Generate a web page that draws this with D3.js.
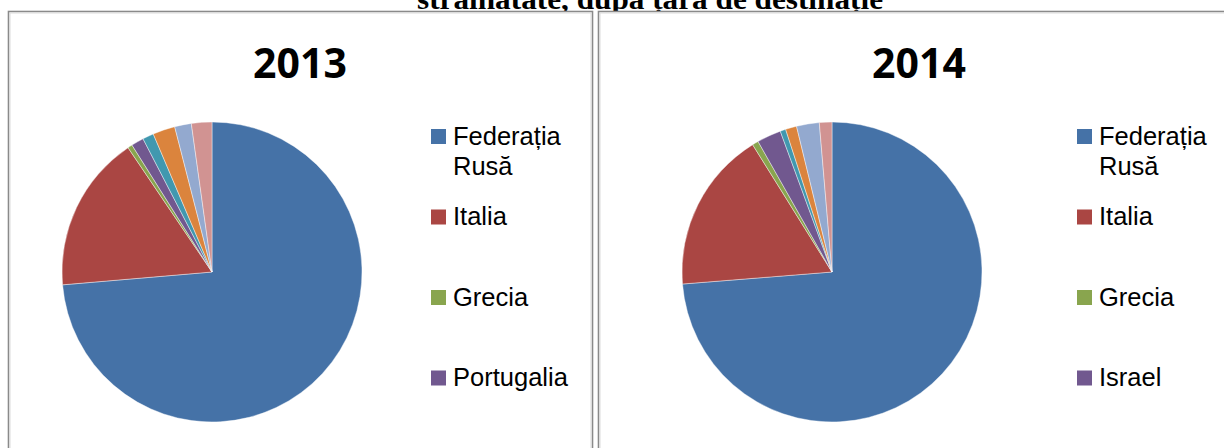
<!DOCTYPE html>
<html>
<head>
<meta charset="utf-8">
<script src="https://cdn.jsdelivr.net/npm/d3@7/dist/d3.min.js"></script>
<style>
  html, body { margin: 0; padding: 0; background: #ffffff; }
  svg { display: block; }
</style>
</head>
<body>
<svg id="chart" width="1224" height="448"></svg>
<script>
// ---- data ----
const headerText = "străinătate, după țara de destinație";
const years = ["2013", "2014"];
const categories2013 = ["Federația Rusă", "Italia", "Grecia", "Portugalia", "Turcia", "Ucraina", "Israel", "Alte țări"];
const values2013 = [73.6, 16.9, 0.5, 1.35, 1.2, 2.4, 1.8, 2.2];
const categories2014 = ["Federația Rusă", "Italia", "Grecia", "Israel", "Portugalia", "Turcia", "Ucraina", "Alte țări"];
const values2014 = [73.7, 17.4, 0.67, 2.6, 0.6, 1.2, 2.45, 1.35];
const sliceColors = ["#4572A7", "#AA4643", "#89A54E", "#71588F", "#4198AF", "#DB843D", "#93A9CF", "#D19392"];
const legendVisibleCount = 4; // the reference legend is cut after 4 entries

const panels = [
  { year: years[0], cats: categories2013, vals: values2013, box: { x: 8, w: 584 }, cx: 212, titleX: 300, legendX: 431 },
  { year: years[1], cats: categories2014, vals: values2014, box: { x: 598, w: 650 }, cx: 832, titleX: 919, legendX: 1077 }
];

const svg = d3.select("#chart");

// header line (cut off at top in the reference)
svg.append("text")
  .attr("x", 650).attr("y", 9)
  .attr("text-anchor", "middle")
  .attr("font-family", "'Liberation Serif', 'Times New Roman', serif")
  .attr("font-weight", "bold")
  .attr("font-size", 30)
  .attr("textLength", 466)
  .attr("lengthAdjust", "spacingAndGlyphs")
  .attr("fill", "#000")
  .text(headerText);

const radius = 150;
const cy = 272;
const pie = d3.pie().sort(null).value(d => d);
const arc = d3.arc().innerRadius(0).outerRadius(radius);

panels.forEach(p => {
  const g = svg.append("g");
  // frame
  g.append("rect")
    .attr("x", p.box.x + 0.5).attr("y", 11.5)
    .attr("width", p.box.w).attr("height", 460)
    .attr("fill", "#fff").attr("stroke", "#8a8a8a").attr("stroke-width", 1.6);
  g.append("rect")
    .attr("x", p.box.x + 2).attr("y", 13)
    .attr("width", p.box.w - 3).attr("height", 460)
    .attr("fill", "none").attr("stroke", "#dcdcdc").attr("stroke-width", 1);

  // title
  g.append("text")
    .attr("x", p.titleX).attr("y", 78)
    .attr("text-anchor", "middle")
    .attr("font-family", "'Open Sans', 'Liberation Sans', sans-serif")
    .attr("font-weight", "bold")
    .attr("font-size", 41)
    .attr("fill", "#000")
    .text(p.year);

  // pie
  const color = d3.scaleOrdinal().domain(p.cats).range(sliceColors);
  const arcs = pie(p.vals);
  g.append("g")
    .attr("transform", `translate(${p.cx},${cy})`)
    .selectAll("path")
    .data(arcs)
    .join("path")
    .attr("d", arc)
    .attr("fill", (d, i) => color(p.cats[i]))
    .attr("stroke", "#ffffff")
    .attr("stroke-width", 0.6)
    .attr("stroke-opacity", 0.7);

  // legend (only the entries visible in the reference)
  const shown = p.cats.slice(0, legendVisibleCount);
  const legendY = d3.scalePoint().domain(shown).range([129, 129 + 80.5 * (shown.length - 1)]);
  const lg = g.append("g");
  shown.forEach(c => {
    const y0 = legendY(c);
    lg.append("rect")
      .attr("x", p.legendX).attr("y", y0)
      .attr("width", 15).attr("height", 15)
      .attr("fill", color(c));
    const words = c.split(" ");
    const lines = words.length > 1 && c.length > 10 ? words : [c];
    lines.forEach((ln, i) => {
      lg.append("text")
        .attr("x", p.legendX + 22).attr("y", y0 + 15.5 + i * 30)
        .attr("font-family", "'Liberation Sans', Arial, sans-serif")
        .attr("font-size", 25.5)
        .attr("fill", "#000")
        .text(ln);
    });
  });
});
</script>
</body>
</html>
